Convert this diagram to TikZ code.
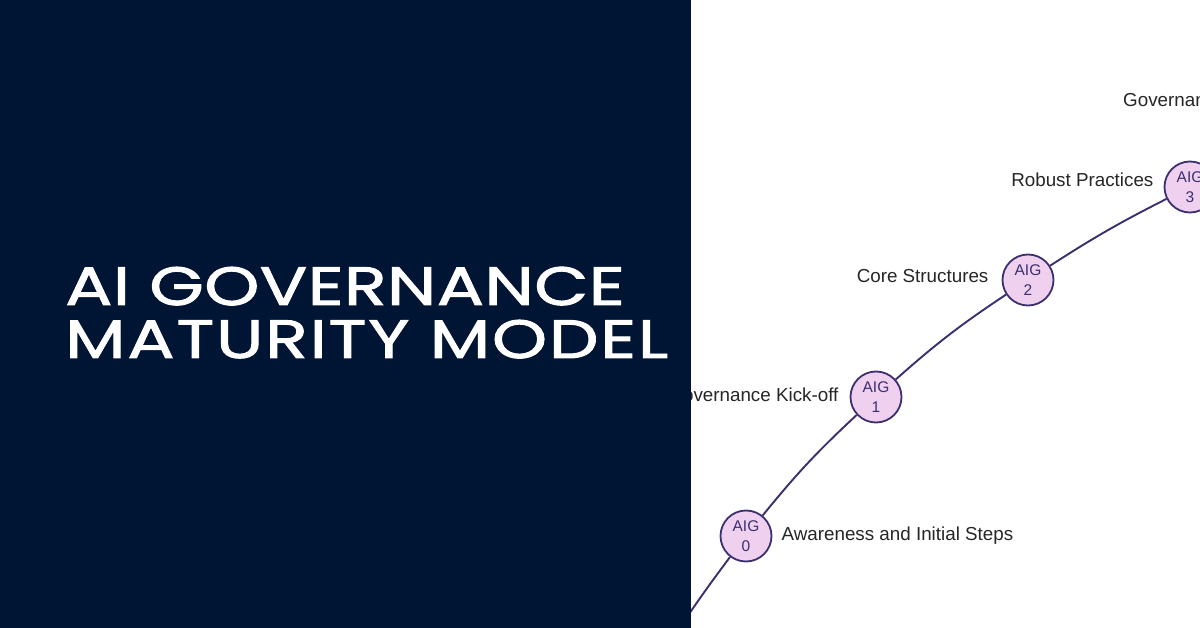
\documentclass[tikz,border=0pt]{standalone}
\usepackage{fontspec}
\setmainfont{Liberation Sans}
\newfontfamily\titlefont[FakeStretch=1.3, FakeBold=1.8, LetterSpace=0.7]{Poppins}
\usetikzlibrary{positioning}
\definecolor{panelnavy}{HTML}{001433}
\definecolor{curvepurple}{HTML}{3B2F70}
\definecolor{stagepink}{HTML}{EFD0EE}
\tikzset{
	stage/.style={circle, draw=curvepurple, fill=stagepink, line width=1.8pt, minimum size=51pt, inner sep=0pt, align=center, text=curvepurple, font=\fontsize{15.5}{20.5}\selectfont},
	stagelabel/.style={text=black!85, font=\fontsize{18.8}{24}\selectfont, inner sep=0pt},
	curve/.style={curvepurple, line width=1.9pt},
	titleline/.style={text=white, font=\fontsize{54}{54}\titlefont, anchor=base west, inner sep=0pt}
}

\begin{document}
\begin{tikzpicture}[x=1pt, y=-1pt]
	    		\clip (0, 0) rectangle (1200, 628);
	    		\fill[white] (0, 0) rectangle (1200, 628);
	    		\coordinate (curvestart) at (664, 652);
	    		\node[stage] (aig0) at (746, 536) {AIG\\0};
	    		\node[stage] (aig1) at (876, 397) {AIG\\1};
	    		\node[stage] (aig2) at (1028, 280) {AIG\\2};
	    		\node[stage] (aig3) at (1190, 187) {AIG\\3};
	    		\draw[curve] (curvestart) to[bend left=2] (aig0);
	    		\draw[curve] (aig0) to[bend left=4] (aig1);
	    		\draw[curve] (aig1) to[bend left=4] (aig2);
	    		\draw[curve] (aig2) to[bend left=3] (aig3);
	    		\node[stagelabel, right=9pt of aig0] (label0) {Awareness and Initial Steps};
	    		\node[stagelabel, left=11pt of aig1, yshift=2pt] (label1) {Governance Kick-off};
	    		\node[stagelabel, left=13pt of aig2, yshift=4pt] (label2) {Core Structures};
	    		\node[stagelabel, left=10pt of aig3, yshift=7pt] (label3) {Robust Practices};
	    		\node[stagelabel, anchor=west] (label4) at (1123, 100) {Governance};
	    		% panel goes over the curve and the label
	    		\fill[panelnavy] (0, 0) rectangle (691, 628);
	    		\node[titleline] (title1) at (65, 305) {AI GOVERNANCE};
	    		\node[titleline] (title2) at (65, 358) {\addfontfeature{LetterSpace=3.2}MATURITY MODEL};
	    	\end{tikzpicture}
\end{document}
